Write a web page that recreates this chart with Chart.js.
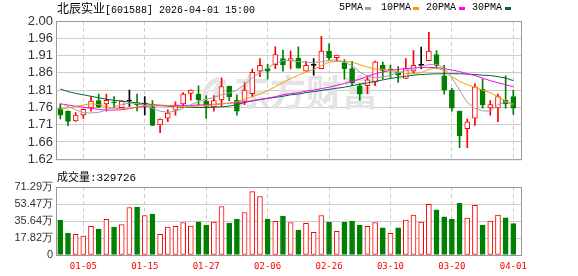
<!DOCTYPE html>
<html>
<head>
<meta charset="utf-8">
<script src="https://cdn.jsdelivr.net/npm/chart.js@4.4.1/dist/chart.umd.min.js"></script>
<style>
  html, body { margin: 0; padding: 0; background: #fff; }
  #wrap { position: relative; width: 578px; height: 276px; overflow: hidden; }
  canvas { position: absolute; left: 0; }
  #priceChart { top: 0; }
  #volChart { top: 170px; }
  .txt { position: absolute; white-space: nowrap; line-height: 1; color: #000;
         font-family: "Liberation Mono", "Noto Sans CJK SC", monospace; }
  .cjk { font-family: "Noto Sans CJK SC", sans-serif; }
  .sw { position: absolute; width: 6px; height: 3px; }
</style>
</head>
<body>
<div id="wrap">
  <canvas id="priceChart" width="578" height="170"></canvas>
  <canvas id="volChart" width="578" height="106"></canvas>

  <div class="txt" style="left:57px;top:2px;font-size:10px;"><span class="cjk" style="font-size:12px;">北辰实业</span>[601588] 2026-04-01 15:00</div>

  <div class="txt" style="left:339px;top:3px;font-size:10px;">5PMA</div>
  <div class="sw" style="left:365px;top:7px;background:#a0a0a0;"></div>
  <div class="txt" style="left:381px;top:3px;font-size:10px;">10PMA</div>
  <div class="sw" style="left:413px;top:7px;background:#f0a000;"></div>
  <div class="txt" style="left:426px;top:3px;font-size:10px;">20PMA</div>
  <div class="sw" style="left:459px;top:7px;background:#ff00ff;"></div>
  <div class="txt" style="left:472px;top:3px;font-size:10px;">30PMA</div>
  <div class="sw" style="left:505px;top:7px;background:#006633;"></div>

  <div class="txt" style="left:57px;top:171px;font-size:11px;"><span class="cjk" style="font-size:11px;">成交量</span>:329726</div>
</div>

<script>
// ---- data ----
const dates = [
  "12-29", "12-30", "12-31", "01-05", "01-06", "01-07", "01-08", "01-09", "01-12", "01-13",
  "01-14", "01-15", "01-16", "01-19", "01-20", "01-21", "01-22", "01-23", "01-26", "01-27",
  "01-28", "01-29", "01-30", "02-02", "02-03", "02-04", "02-05", "02-06", "02-09", "02-10",
  "02-11", "02-12", "02-13", "02-24", "02-25", "02-26", "02-27", "03-02", "03-03", "03-04",
  "03-05", "03-06", "03-09", "03-10", "03-11", "03-12", "03-13", "03-16", "03-17", "03-18",
  "03-19", "03-20", "03-23", "03-24", "03-25", "03-26", "03-27", "03-30", "03-31", "04-01"
];

const open = [
  1.759, 1.752, 1.725, 1.742, 1.761, 1.781, 1.772, 1.778, 1.762, 1.780,
  1.774, 1.771, 1.764, 1.714, 1.733, 1.755, 1.772, 1.801, 1.799, 1.780,
  1.764, 1.783, 1.821, 1.782, 1.779, 1.800, 1.862, 1.869, 1.880, 1.897,
  1.891, 1.898, 1.862, 1.878, 1.869, 1.917, 1.899, 1.886, 1.869, 1.822,
  1.822, 1.832, 1.878, 1.867, 1.859, 1.842, 1.862, 1.878, 1.891, 1.908,
  1.849, 1.810, 1.752, 1.704, 1.733, 1.812, 1.761, 1.761, 1.782, 1.792
];
const high = [
  1.772, 1.753, 1.748, 1.758, 1.792, 1.799, 1.799, 1.792, 1.781, 1.810,
  1.799, 1.792, 1.781, 1.731, 1.756, 1.778, 1.803, 1.811, 1.822, 1.794,
  1.795, 1.844, 1.821, 1.797, 1.831, 1.868, 1.897, 1.881, 1.929, 1.920,
  1.918, 1.929, 1.889, 1.897, 1.958, 1.937, 1.906, 1.894, 1.889, 1.828,
  1.850, 1.890, 1.887, 1.879, 1.875, 1.897, 1.919, 1.928, 1.969, 1.919,
  1.878, 1.815, 1.752, 1.730, 1.828, 1.840, 1.781, 1.799, 1.849, 1.810
];
const low = [
  1.731, 1.712, 1.724, 1.732, 1.752, 1.762, 1.752, 1.761, 1.761, 1.765,
  1.753, 1.742, 1.712, 1.693, 1.723, 1.741, 1.765, 1.782, 1.768, 1.732,
  1.752, 1.765, 1.781, 1.741, 1.770, 1.792, 1.847, 1.840, 1.869, 1.862,
  1.868, 1.870, 1.862, 1.851, 1.869, 1.893, 1.889, 1.840, 1.822, 1.782,
  1.800, 1.822, 1.841, 1.844, 1.831, 1.842, 1.857, 1.869, 1.891, 1.869,
  1.799, 1.752, 1.652, 1.652, 1.713, 1.760, 1.741, 1.723, 1.760, 1.743
];
const close = [
  1.741, 1.724, 1.741, 1.757, 1.780, 1.763, 1.782, 1.775, 1.780, 1.780,
  1.770, 1.771, 1.713, 1.730, 1.747, 1.769, 1.799, 1.810, 1.784, 1.765,
  1.781, 1.820, 1.792, 1.752, 1.810, 1.859, 1.878, 1.862, 1.908, 1.879,
  1.897, 1.870, 1.878, 1.878, 1.917, 1.899, 1.906, 1.869, 1.830, 1.799,
  1.838, 1.888, 1.864, 1.864, 1.851, 1.869, 1.878, 1.878, 1.917, 1.878,
  1.810, 1.760, 1.684, 1.723, 1.819, 1.769, 1.770, 1.792, 1.772, 1.760
];
// volume in lots (手)
const volume = [
  365000, 230000, 216000, 198000, 300000, 271000, 373000, 292000, 320000, 498000,
  501000, 414000, 428000, 216000, 292000, 300000, 341000, 303000, 348000, 313000,
  344000, 508000, 334000, 376000, 446000, 665000, 613000, 376000, 352000, 407000,
  341000, 261000, 331000, 237000, 414000, 344000, 247000, 344000, 355000, 313000,
  300000, 341000, 285000, 227000, 285000, 365000, 418000, 344000, 532000, 473000,
  400000, 376000, 543000, 386000, 522000, 313000, 355000, 418000, 389000, 329726
];

const ma5 = [
  1.774, 1.765, 1.756, 1.748, 1.747, 1.749, 1.755, 1.764, 1.770, 1.774,
  1.773, 1.768, 1.760, 1.752, 1.749, 1.752, 1.760, 1.770, 1.778, 1.785,
  1.790, 1.797, 1.802, 1.810, 1.826, 1.843, 1.858, 1.871, 1.883, 1.891,
  1.892, 1.888, 1.887, 1.885, 1.888, 1.891, 1.893, 1.887, 1.877, 1.860,
  1.848, 1.844, 1.846, 1.851, 1.858, 1.863, 1.867, 1.876, 1.880, 1.881,
  1.871, 1.844, 1.810, 1.776, 1.760, 1.753, 1.752, 1.770, 1.778, 1.773
];
const ma10 = [
  1.757, 1.761, 1.765, 1.769, 1.772, 1.770, 1.764, 1.760, 1.759, 1.760,
  1.764, 1.768, 1.769, 1.769, 1.768, 1.765, 1.764, 1.765, 1.766, 1.767,
  1.770, 1.772, 1.774, 1.778, 1.785, 1.792, 1.799, 1.809, 1.819, 1.831,
  1.842, 1.851, 1.859, 1.867, 1.877, 1.887, 1.889, 1.889, 1.887, 1.880,
  1.873, 1.868, 1.867, 1.864, 1.860, 1.856, 1.855, 1.858, 1.867, 1.871,
  1.863, 1.847, 1.834, 1.825, 1.818, 1.810, 1.803, 1.792, 1.780, 1.768
];
const ma20 = [
  1.772, 1.769, 1.766, 1.763, 1.760, 1.757, 1.755, 1.755, 1.756, 1.759,
  1.763, 1.765, 1.767, 1.767, 1.767, 1.768, 1.768, 1.768, 1.769, 1.770,
  1.771, 1.772, 1.774, 1.775, 1.778, 1.781, 1.784, 1.788, 1.792, 1.797,
  1.800, 1.803, 1.807, 1.810, 1.814, 1.818, 1.823, 1.828, 1.834, 1.840,
  1.848, 1.855, 1.860, 1.864, 1.867, 1.869, 1.871, 1.872, 1.872, 1.872,
  1.869, 1.865, 1.861, 1.855, 1.850, 1.843, 1.836, 1.830, 1.825, 1.819
];
const ma30 = [
  1.813, 1.806, 1.801, 1.797, 1.793, 1.789, 1.785, 1.782, 1.780, 1.777,
  1.775, 1.773, 1.770, 1.768, 1.766, 1.764, 1.763, 1.763, 1.762, 1.762,
  1.763, 1.764, 1.766, 1.770, 1.776, 1.780, 1.784, 1.787, 1.790, 1.793,
  1.797, 1.799, 1.803, 1.806, 1.809, 1.812, 1.815, 1.818, 1.822, 1.826,
  1.830, 1.834, 1.838, 1.842, 1.845, 1.848, 1.851, 1.853, 1.854, 1.855,
  1.855, 1.855, 1.855, 1.854, 1.853, 1.851, 1.850, 1.847, 1.843, 1.836
];

const priceTickLabels = ["1.62", "1.66", "1.71", "1.76", "1.81", "1.86", "1.91", "1.96", "2.00"];
const volTickLabels = ["0", "17.82万", "35.64万", "53.47万", "71.29万"];
const xTickLabels = ["01-05", "01-15", "01-27", "02-06", "02-26", "03-10", "03-20", "04-01"];

// ---- chart setup ----
const priceMin = 1.62, priceMax = 2.00;
const volMax = 712900;
const xMin = -0.56, xMax = 60.13;

const UP = "#ff0000", DOWN = "#008000", FLAT = "#000000";
const idx = dates.map((d, i) => i);
const tickIdx = xTickLabels.map(d => dates.indexOf(d));

// candle colour: close vs open, black when unchanged
const candleColor = idx.map(i => close[i] > open[i] ? UP : (close[i] < open[i] ? DOWN : FLAT));
// volume colour: close vs previous close
const volUp = idx.map(i => i === 0 ? close[i] >= open[i] : close[i] >= close[i - 1]);

const frame = {
  id: "frame",
  afterDraw(chart) {
    const { ctx, chartArea: a } = chart;
    ctx.save();
    ctx.strokeStyle = "#999999";
    ctx.lineWidth = 1;
    ctx.strokeRect(a.left + 0.5, a.top + 0.5, a.right - a.left - 1, a.bottom - a.top);
    ctx.restore();
  }
};

const watermark = {
  id: "watermark",
  beforeDatasetsDraw(chart) {
    const ctx = chart.ctx;
    ctx.save();
    ctx.fillStyle = "#e4e4e6";
    ctx.strokeStyle = "#e4e4e6";
    // logo mark
    ctx.lineWidth = 5;
    ctx.beginPath();
    ctx.arc(222, 96, 17, Math.PI * 0.75, Math.PI * 1.45);
    ctx.stroke();
    ctx.beginPath();
    ctx.arc(226, 92, 10, Math.PI * 0.8, Math.PI * 1.5);
    ctx.stroke();
    ctx.font = "bold 36px 'Noto Sans CJK SC'";
    ctx.textBaseline = "middle";
    ctx.fillText("东方财富", 234, 92);
    ctx.restore();
  }
};

function maLine(label, values, color) {
  return {
    type: "line",
    label: label,
    data: idx.map(i => ({ x: i, y: values[i] })),
    borderColor: color,
    borderWidth: 1,
    pointRadius: 0,
    tension: 0,
    fill: false
  };
}

const xGrid = {
  type: "linear",
  min: xMin,
  max: xMax,
  offset: false,
  grid: { color: "#cccccc", drawTicks: false, offset: false },
  border: { display: false, dash: [4, 3] },
  afterBuildTicks: s => { s.ticks = tickIdx.map(v => ({ value: v })); }
};

new Chart(document.getElementById("priceChart"), {
  type: "bar",
  data: {
    datasets: [
      maLine("5PMA", ma5, "#a0a0a0"),
      maLine("10PMA", ma10, "#f0a000"),
      maLine("20PMA", ma20, "#ff00ff"),
      maLine("30PMA", ma30, "#006633"),
      {
        label: "body",
        data: idx.map(i => ({ x: i, y: [open[i], close[i]] })),
        backgroundColor: idx.map(i => close[i] > open[i] ? "#ffffff" : candleColor[i]),
        borderColor: candleColor,
        borderWidth: 1,
        borderSkipped: false,
        barThickness: 5,
        minBarLength: 1,
        grouped: false
      },
      {
        label: "wick",
        data: idx.map(i => ({ x: i, y: [low[i], high[i]] })),
        backgroundColor: candleColor,
        borderWidth: 0,
        barThickness: 1,
        grouped: false
      }
    ]
  },
  options: {
    responsive: false,
    animation: false,
    layout: { padding: { left: 0, right: 56, top: 21, bottom: 5 } },
    plugins: { legend: { display: false }, tooltip: { enabled: false } },
    scales: {
      x: Object.assign({}, xGrid, {
        ticks: { display: false },
        afterFit: s => { s.height = 0; }
      }),
      y: {
        min: priceMin,
        max: priceMax,
        grid: { color: "#cccccc", drawTicks: false },
        border: { display: false },
        ticks: {
          autoSkip: false,
          padding: 3,
          color: "#333333",
          font: { family: "Liberation Sans", size: 13 },
          callback: (v, k) => priceTickLabels[k]
        },
        afterBuildTicks: s => {
          const n = priceTickLabels.length;
          s.ticks = priceTickLabels.map((t, k) => ({ value: priceMin + k * (priceMax - priceMin) / (n - 1) }));
        },
        afterFit: s => { s.width = 56; }
      }
    }
  },
  plugins: [watermark, frame]
});

new Chart(document.getElementById("volChart"), {
  type: "bar",
  data: {
    datasets: [{
      label: "成交量",
      data: idx.map(i => ({ x: i, y: volume[i] })),
      backgroundColor: idx.map(i => volUp[i] ? "#ffffff" : DOWN),
      borderColor: idx.map(i => volUp[i] ? UP : DOWN),
      borderWidth: 1,
      borderSkipped: false,
      barThickness: 5
    }]
  },
  options: {
    responsive: false,
    animation: false,
    layout: { padding: { left: 0, right: 56, top: 17, bottom: 0 } },
    plugins: { legend: { display: false }, tooltip: { enabled: false } },
    scales: {
      x: Object.assign({}, xGrid, {
        ticks: {
          padding: 6,
          color: "#ff0000",
          autoSkip: false,
          maxRotation: 0,
          font: { family: "DejaVu Sans Mono", size: 9 },
          callback: v => dates[v]
        },
        afterFit: s => { s.height = 21; }
      }),
      y: {
        min: 0,
        max: volMax,
        grid: { color: "#cccccc", drawTicks: false },
        border: { display: false },
        ticks: {
          autoSkip: false,
          padding: 3,
          color: "#333333",
          font: { family: "Liberation Sans", size: 11 },
          callback: (v, k) => volTickLabels[k]
        },
        afterBuildTicks: s => {
          const n = volTickLabels.length;
          s.ticks = volTickLabels.map((t, k) => ({ value: k * volMax / (n - 1) }));
        },
        afterFit: s => { s.width = 56; }
      }
    }
  },
  plugins: [frame]
});
</script>
</body>
</html>
